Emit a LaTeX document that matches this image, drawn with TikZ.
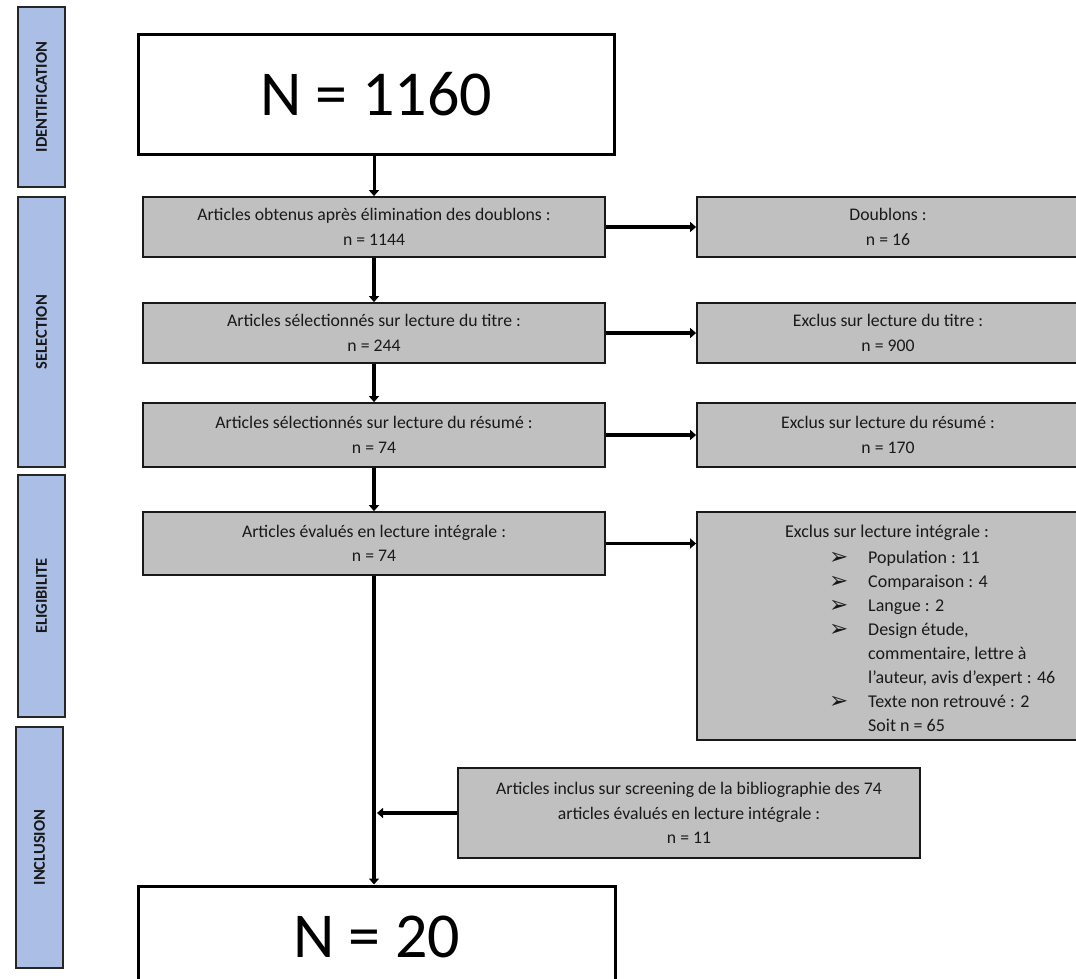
\documentclass[tikz,border=0pt]{standalone}
\usepackage{fontspec}
\setmainfont{Carlito}
\newfontfamily\symfont{DejaVu Sans}
\usetikzlibrary{arrows.meta}
\definecolor{phasefill}{RGB}{170,190,230}
\definecolor{boxfill}{RGB}{192,192,192}
\definecolor{txt}{RGB}{25,25,25}
\newcommand\bul{\hspace*{1pt}\raisebox{-1.5pt}{\symfont\fontsize{23}{24}\selectfont ➢}}
\tikzset{
  phase/.style={draw=black!85, line width=1.6pt, fill=phasefill, rotate=90,
    inner sep=0pt, font=\fontsize{16.5}{18}\selectfont\bfseries, text=txt},
  graybox/.style={draw=black!90, line width=1.8pt, fill=boxfill, inner sep=0pt,
    align=center, font=\fontsize{17.7}{24.5}\selectfont, text=txt},
  bigbox/.style={draw=black, line width=3pt, fill=white, inner sep=0pt,
    font=\fontsize{64}{76}\selectfont},
  listtext/.style={font=\fontsize{18}{24}\selectfont, text=txt, inner sep=0pt},
  conn/.style={line width=3.6pt, -{Triangle[length=6pt,width=10pt]}},
}
\begin{document}
\begin{tikzpicture}[x=1pt,y=-1pt]
\useasboundingbox (0,0) rectangle (1076,978);
% phase bars
\node[phase, minimum width=180, minimum height=47] (pid) at (41.5,97) {IDENTIFICATION};
\node[phase, minimum width=270, minimum height=47] (psel) at (41.5,332) {SELECTION};
\node[phase, minimum width=242, minimum height=47] (pel) at (41.5,596) {ELIGIBILITE};
\node[phase, minimum width=241, minimum height=47] (pinc) at (39.5,847.5) {INCLUSION};
% main column
\node[bigbox, minimum width=476, minimum height=120] (top) at (376,94) {N = 1160};
\node[graybox, minimum width=462, minimum height=60] (b1) at (374,227) {Articles obtenus après élimination des doublons :\\n = 1144};
\node[graybox, minimum width=462, minimum height=60] (b2) at (374,333) {Articles sélectionnés sur lecture du titre :\\n = 244};
\node[graybox, minimum width=462, minimum height=64] (b3) at (374,435) {Articles sélectionnés sur lecture du résumé :\\n = 74};
\node[graybox, minimum width=462, minimum height=63] (b4) at (374,543.5) {Articles évalués en lecture intégrale :\\n = 74};
\node[bigbox, minimum width=477, minimum height=102] (fin) at (376.5,937) {N = 20};
% right column
\node[graybox, minimum width=382, minimum height=60] (r1) at (888,227) {Doublons :\\n = 16};
\node[graybox, minimum width=382, minimum height=60] (r2) at (888,333) {Exclus sur lecture du titre :\\n = 900};
\node[graybox, minimum width=382, minimum height=64] (r3) at (888,435) {Exclus sur lecture du résumé :\\n = 170};
\node[graybox, minimum width=382, minimum height=228] (r4) at (888,626) {};
\node[listtext] (r4t) at (887,533) {Exclus sur lecture intégrale :};
\node[listtext, anchor=north west] (r4l) at (828,546)
{\begin{tabular}{@{}p{40pt}@{}l@{}}
\bul & Population : 11\\
\bul & Comparaison : 4\\
\bul & Langue : 2\\
\bul & Design étude,\\
 & commentaire, lettre à\\
 & l’auteur, avis d’expert : 46\\
\bul & Texte non retrouvé : 2\\
 & Soit n = 65
\end{tabular}};
% inclusion box
\node[graybox, minimum width=462, minimum height=90] (inc) at (689,813) {Articles inclus sur screening de la bibliographie des 74\\articles évalués en lecture intégrale :\\n = 11};
% connectors
\draw[conn, line width=3pt] (b1.north |- top.south) -- (b1.north);
\draw[conn] (b1.south) -- (b2.north);
\draw[conn] (b2.south) -- (b3.north);
\draw[conn] (b3.south) -- (b4.north);
\draw[conn] (b4.south) -- (b4.south |- fin.north);
\draw[conn] (b1.east) -- (r1.west);
\draw[conn] (b2.east) -- (r2.west);
\draw[conn] (b3.east) -- (r3.west);
\draw[conn] (b4.east) -- (r4.west |- b4.east);
\draw[conn, shorten >=3pt] (inc.west) -- (inc.west -| b4.south);
\end{tikzpicture}
\end{document}
